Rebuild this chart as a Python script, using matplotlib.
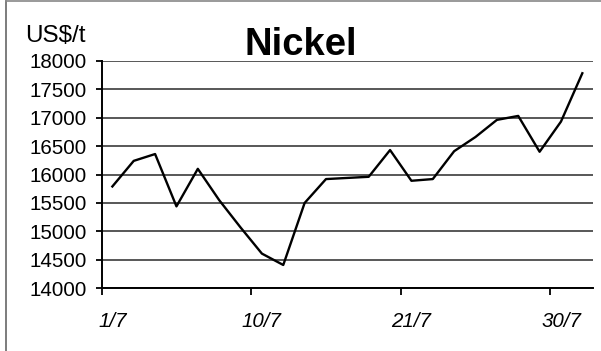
import matplotlib
matplotlib.use("Agg")
import matplotlib.pyplot as plt
from matplotlib.lines import Line2D
import numpy as np

plt.rcParams['font.family'] = ['Liberation Sans', 'DejaVu Sans']

# daily nickel price, US$/t, July trading days
prices = [15790, 16240, 16360, 15440, 16100, 15550, 15070, 14610, 14410,
          15500, 15920, 15940, 15960, 16430, 15890, 15920, 16410, 16660,
          16960, 17030, 16400, 16930, 17780]
date_labels = ["1/7", "10/7", "21/7", "30/7"]
label_idx = [0, 7, 14, 21]

fig = plt.figure(figsize=(6.01, 3.51), dpi=100)
ax = fig.add_axes([0.1692, 0.1786, 0.8175, 0.6484])

x = np.arange(len(prices))
ax.plot(x, prices, color='black', lw=1.7, zorder=3)

ax.set_xlim(-0.5, len(prices) - 0.5)
ax.set_ylim(14000, 18000)
ax.set_yticks(np.arange(14000, 18001, 500))
ax.tick_params(axis='y', labelsize=14.8, length=4.5, width=1.3, pad=6, direction='out')
ax.grid(axis='y', color='#4a4a4a', lw=1.3)

# tick marks on category boundaries, labels on category centres
ax.set_xticks([i - 0.5 for i in label_idx])
ax.set_xticklabels([])
ax.tick_params(axis='x', which='major', length=5, width=1.3, direction='out')
ax.set_xticks(label_idx, minor=True)
ax.set_xticklabels(date_labels, minor=True, fontsize=14.8, style='italic')
ax.tick_params(axis='x', which='minor', length=0, pad=17)

for s in ['top', 'right']:
    ax.spines[s].set_visible(False)
for s in ['left', 'bottom']:
    ax.spines[s].set_linewidth(1.4)

fig.text(0.5, 0.842, "Nickel", ha='center', va='baseline',
         fontsize=27.5, fontweight='bold', zorder=5)
fig.text(0.042, 0.88, "US$/t", ha='left', va='baseline', fontsize=17.5)

# chart frame
fig.add_artist(Line2D([0.01, 0.01], [0.0, 0.997], color='#666666', lw=1.2))
fig.add_artist(Line2D([0.01, 1.0], [0.997, 0.997], color='#888888', lw=1.2))

fig.savefig("out.png", dpi=100)
